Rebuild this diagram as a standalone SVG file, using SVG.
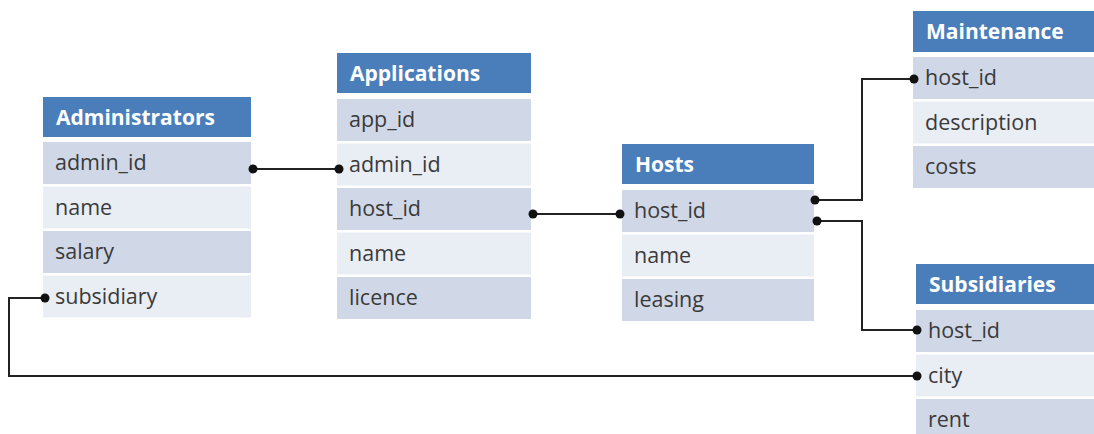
<svg xmlns="http://www.w3.org/2000/svg" width="1094" height="434" viewBox="0 0 1094 434">
<style>
.h{fill:#4a7ebb}
.d{fill:#d0d8e8}
.l{fill:#e9edf4}
.ht{font-family:"Open Sans","Noto Sans",sans-serif;font-weight:bold;font-size:21px;fill:#ffffff}
.t{font-family:"Open Sans","Noto Sans",sans-serif;font-size:21.5px;fill:#3a3a3a}
.c{fill:none;stroke:#222;stroke-width:2}
.dot{fill:#111}
</style>
<rect width="1094" height="434" fill="#ffffff"/>
<g id="administrators">
<rect class="h" x="43" y="97" width="208" height="40"/>
<text class="ht" x="56" y="125">Administrators</text>
<rect class="d" x="43" y="142" width="208" height="42"/>
<text class="t" x="55" y="170">admin_id</text>
<rect class="l" x="43" y="186.5" width="208" height="42"/>
<text class="t" x="55" y="214.5">name</text>
<rect class="d" x="43" y="231" width="208" height="42"/>
<text class="t" x="55" y="259">salary</text>
<rect class="l" x="43" y="275.5" width="208" height="42"/>
<text class="t" x="55" y="303.5">subsidiary</text>
</g>
<g id="applications">
<rect class="h" x="337" y="53" width="194" height="40"/>
<text class="ht" x="350" y="81">Applications</text>
<rect class="d" x="337" y="99" width="194" height="42"/>
<text class="t" x="349" y="127">app_id</text>
<rect class="l" x="337" y="143.5" width="194" height="42"/>
<text class="t" x="349" y="171.5">admin_id</text>
<rect class="d" x="337" y="188" width="194" height="42"/>
<text class="t" x="349" y="216">host_id</text>
<rect class="l" x="337" y="232.5" width="194" height="42"/>
<text class="t" x="349" y="260.5">name</text>
<rect class="d" x="337" y="277" width="194" height="42"/>
<text class="t" x="349" y="305">licence</text>
</g>
<g id="hosts">
<rect class="h" x="622" y="144" width="192" height="40"/>
<text class="ht" x="635" y="172">Hosts</text>
<rect class="d" x="622" y="190" width="192" height="42"/>
<text class="t" x="634" y="218">host_id</text>
<rect class="l" x="622" y="234.5" width="192" height="42"/>
<text class="t" x="634" y="262.5">name</text>
<rect class="d" x="622" y="279" width="192" height="42"/>
<text class="t" x="634" y="307">leasing</text>
</g>
<g id="maintenance">
<rect class="h" x="913" y="11" width="190" height="41"/>
<text class="ht" x="926" y="39">Maintenance</text>
<rect class="d" x="913" y="57" width="190" height="42"/>
<text class="t" x="925" y="85">host_id</text>
<rect class="l" x="913" y="101.5" width="190" height="42"/>
<text class="t" x="925" y="129.5">description</text>
<rect class="d" x="913" y="146" width="190" height="42"/>
<text class="t" x="925" y="174">costs</text>
</g>
<g id="subsidiaries">
<rect class="h" x="916" y="264" width="190" height="40"/>
<text class="ht" x="929" y="292">Subsidiaries</text>
<rect class="d" x="916" y="310" width="190" height="42"/>
<text class="t" x="928" y="338">host_id</text>
<rect class="l" x="916" y="354.5" width="190" height="42"/>
<text class="t" x="928" y="382.5">city</text>
<rect class="d" x="916" y="399" width="190" height="42"/>
<text class="t" x="928" y="427">rent</text>
</g>
<g id="connectors">
<path class="c" d="M253,169 H339"/>
<circle class="dot" cx="253" cy="169" r="4.5"/>
<circle class="dot" cx="339" cy="169" r="4.5"/>
<path class="c" d="M533,214 H620"/>
<circle class="dot" cx="533" cy="214" r="4.5"/>
<circle class="dot" cx="620" cy="214" r="4.5"/>
<path class="c" d="M815,200 H862 V79 H914"/>
<circle class="dot" cx="815" cy="200" r="4.5"/>
<circle class="dot" cx="914" cy="79" r="4.5"/>
<path class="c" d="M817,221 H862 V330 H917"/>
<circle class="dot" cx="817" cy="221" r="4.5"/>
<circle class="dot" cx="917" cy="330" r="4.5"/>
<path class="c" d="M45,298 H9 V376 H917"/>
<circle class="dot" cx="45" cy="298" r="4.5"/>
<circle class="dot" cx="917" cy="376" r="4.5"/>
</g>
</svg>
